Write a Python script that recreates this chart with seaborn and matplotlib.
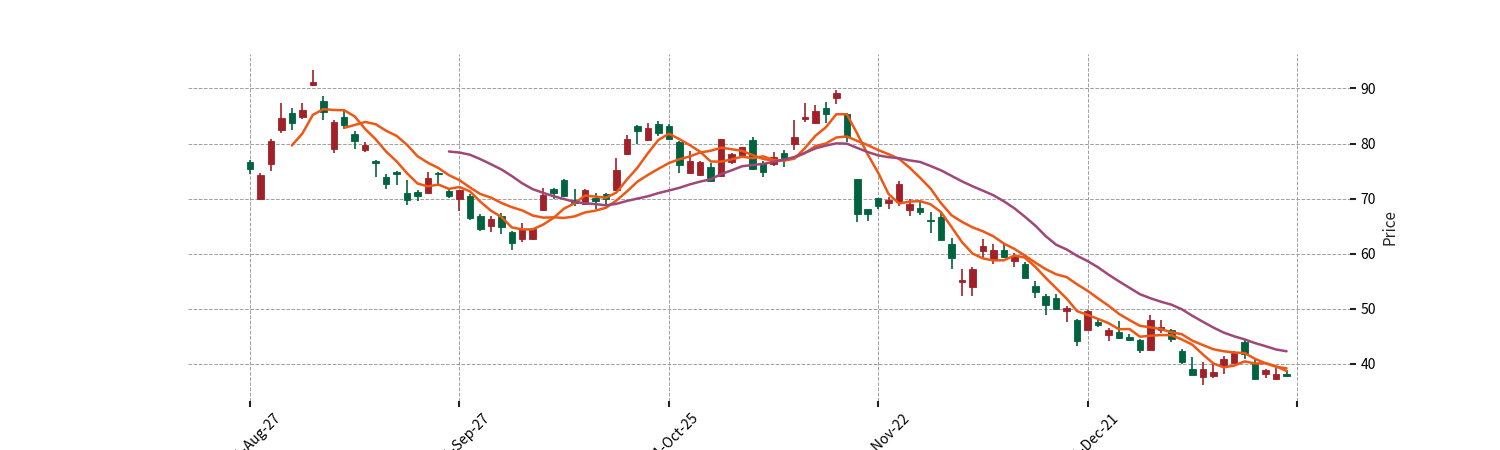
import numpy as np
import pandas as pd
import matplotlib
matplotlib.use("Agg")
import matplotlib.pyplot as plt
import seaborn as sns

# ---- data ----
opens = [76.6, 70.0, 76.2, 82.4, 85.6, 84.8, 90.7, 87.7, 79.1, 84.8,
         81.7, 78.8, 76.8, 74.0, 74.9, 71.1, 71.2, 71.1, 74.7, 71.3,
         69.9, 70.5, 66.9, 65.1, 66.8, 64.0, 62.6, 62.6, 67.9, 71.7,
         73.4, 69.8, 69.0, 70.2, 70.8, 71.5, 78.1, 83.2, 80.7, 83.5,
         83.2, 80.2, 74.7, 74.2, 75.8, 74.1, 76.7, 77.9, 80.7, 76.5,
         76.2, 78.2, 79.9, 84.4, 83.7, 86.5, 88.2, 85.4, 73.5, 68.1,
         70.1, 69.2, 69.3, 67.9, 68.3, 66.2, 66.7, 61.7, 54.9, 53.9,
         60.5, 59.0, 60.7, 58.7, 58.1, 54.2, 52.4, 51.9, 49.6, 47.9,
         46.1, 47.6, 45.3, 45.8, 44.8, 44.3, 42.6, 46.1, 46.2, 42.4,
         39.0, 37.6, 37.8, 39.6, 40.2, 43.9, 40.2, 38.1, 37.2, 38.2]
highs = [77.1, 74.7, 80.8, 87.4, 86.5, 87.3, 93.4, 88.7, 84.3, 85.9,
         82.2, 80.3, 77.0, 74.4, 75.0, 73.4, 71.5, 74.9, 74.9, 71.7,
         71.6, 70.8, 67.2, 66.9, 67.3, 64.2, 65.6, 64.6, 71.9, 72.0,
         73.5, 71.7, 71.7, 71.1, 71.1, 77.3, 81.5, 83.3, 83.7, 84.1,
         83.5, 80.5, 78.7, 76.8, 76.4, 80.9, 78.2, 79.4, 81.1, 76.8,
         78.5, 78.8, 84.3, 87.4, 87.0, 87.6, 89.8, 85.6, 73.6, 68.1,
         70.2, 70.3, 73.2, 69.9, 69.3, 67.5, 67.5, 62.8, 57.3, 57.5,
         62.6, 61.7, 61.7, 60.2, 58.5, 55.0, 52.6, 52.7, 50.5, 48.1,
         49.7, 48.1, 46.5, 47.8, 45.5, 44.5, 48.8, 47.9, 46.4, 42.7,
         41.2, 40.3, 39.9, 41.5, 42.3, 44.4, 40.7, 39.0, 39.3, 38.8]
lows = [74.4, 69.8, 75.0, 81.9, 82.5, 84.5, 90.5, 84.2, 78.2, 82.6,
        79.1, 78.4, 74.0, 71.8, 72.4, 68.8, 69.5, 71.0, 72.2, 70.2,
        67.8, 66.2, 64.2, 64.0, 63.6, 60.6, 62.1, 62.5, 67.8, 70.0,
        70.3, 68.6, 68.8, 68.2, 69.0, 71.4, 77.9, 79.9, 80.5, 81.3,
        80.7, 74.7, 74.5, 74.1, 73.0, 73.9, 76.3, 77.7, 75.2, 74.0,
        76.0, 75.7, 78.8, 83.9, 83.6, 83.8, 87.1, 80.2, 65.8, 66.0,
        68.1, 68.1, 68.7, 66.9, 67.0, 63.8, 62.4, 57.2, 52.4, 52.4,
        59.3, 58.1, 59.2, 57.6, 55.5, 52.0, 48.8, 49.8, 47.6, 43.3,
        46.1, 46.7, 44.1, 44.5, 44.1, 41.9, 42.6, 45.6, 43.9, 40.0,
        37.9, 36.2, 37.5, 38.1, 40.1, 40.8, 37.0, 37.5, 37.1, 37.6]
closes = [75.3, 74.2, 80.5, 84.6, 83.7, 86.1, 91.1, 85.7, 83.9, 83.4,
          80.5, 79.7, 76.4, 72.7, 74.5, 69.7, 70.4, 73.8, 74.4, 70.5,
          71.5, 66.4, 64.4, 66.3, 64.8, 62.0, 64.5, 64.5, 70.6, 71.0,
          70.4, 69.2, 71.6, 69.6, 70.0, 75.2, 80.9, 82.3, 82.8, 82.0,
          80.9, 76.1, 76.8, 76.7, 73.2, 80.8, 78.1, 79.3, 75.3, 74.9,
          77.6, 77.3, 81.2, 84.9, 86.0, 85.4, 89.1, 81.2, 67.2, 67.2,
          68.7, 69.7, 72.7, 69.0, 67.6, 65.9, 62.5, 59.3, 55.2, 57.3,
          61.4, 60.7, 59.4, 59.5, 55.5, 53.0, 50.6, 50.0, 50.1, 44.1,
          49.6, 47.0, 46.1, 44.6, 44.3, 42.6, 47.9, 46.7, 44.5, 40.4,
          37.9, 39.1, 38.5, 40.9, 42.0, 41.7, 37.2, 38.8, 38.1, 37.7]

start_date = "2021-08-27"
market_holidays = ["2021-09-06", "2021-11-25", "2021-12-24", "2022-01-17"]
mav_windows = [5, 10, 20]
mav_colors = ["#ef5714", "#ef5714", "#9f4878"]
up_color = "#a02128"
down_color = "#006340"
date_format = "%Y-%b-%d"
tick_every = 20
y_label = "Price"

# ---- build frame ----
dates = pd.bdate_range(start_date, periods=len(closes), freq="C",
                       holidays=market_holidays)
df = pd.DataFrame({"date": dates, "open": opens, "high": highs,
                   "low": lows, "close": closes})
df["idx"] = np.arange(len(df))
for w in mav_windows:
    df[f"ma{w}"] = df["close"].rolling(w).mean()

# ---- style ----
sns.set_theme(style="darkgrid")
plt.rcParams["font.family"] = ["Noto Sans CJK SC", "DejaVu Sans"]
plt.rcParams["axes.unicode_minus"] = False

fig = plt.figure(figsize=(15, 4.5), dpi=100)
ax = fig.add_axes([0.125, 0.11, 0.775, 0.77])
ax.set_facecolor("white")
fig.patch.set_facecolor("white")

up = df["close"] >= df["open"]
colors = np.where(up, up_color, down_color)

ax.vlines(df["idx"], df["low"], df["high"], colors=colors,
          linewidth=1.2, zorder=2)
body_h = (df["close"] - df["open"]).abs()
body_b = np.minimum(df["open"], df["close"])
ax.bar(df["idx"], body_h, bottom=body_b, width=0.62, color=colors,
       edgecolor=colors, linewidth=0.6, zorder=3)

for w, c in zip(mav_windows, mav_colors):
    sns.lineplot(data=df, x="idx", y=f"ma{w}", color=c, linewidth=1.8,
                 ax=ax, zorder=4, legend=False)

# ---- axes ----
lo, hi = min(lows), max(highs)
pad = 0.05 * (hi - lo)
ax.set_ylim(lo - pad, hi + pad)
ax.set_xlim(-5.97, len(df) + 5.06)

ticks = list(range(0, len(df) + 1, tick_every))
labels = [df["date"].iloc[t].strftime(date_format) if t < len(df) else ""
          for t in ticks]
ax.set_xticks(ticks)
ax.set_xticklabels(labels, rotation=45, ha="center")
ax.set_yticks([40, 50, 60, 70, 80, 90])

ax.yaxis.tick_right()
ax.yaxis.set_label_position("right")
ax.set_xlabel("")
ax.set_ylabel(y_label, fontsize=11)

ax.grid(True, color="#a0a0a0", linestyle="--", linewidth=0.7)
ax.set_axisbelow(True)
for s in ax.spines.values():
    s.set_visible(False)
ax.tick_params(axis="both", which="major", length=4, width=1.5,
               color="#222222", labelsize=10, labelcolor="black")
ax.tick_params(axis="y", left=False, right=True)
ax.tick_params(axis="x", bottom=True, top=False)

fig.savefig("out.png", dpi=100, facecolor="white")
